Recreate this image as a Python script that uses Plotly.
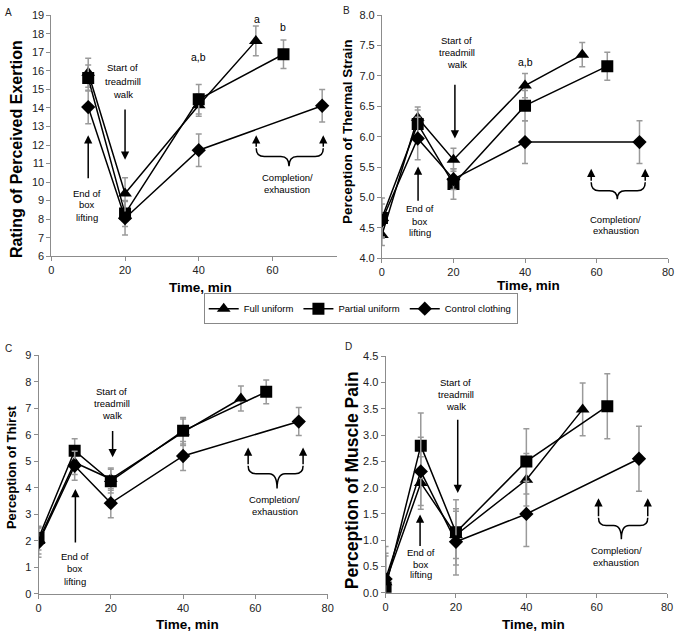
import plotly.graph_objects as go

# ---------------- data ----------------
SERIES = ["Full uniform", "Partial uniform", "Control clothing"]

# Panel A: rating of perceived exertion (no baseline point)
TIME_A_FULL = [10, 20, 40, 55.5]
TIME_A_PARTIAL = [10, 20, 40, 63]
TIME_A_CONTROL = [10, 20, 40, 73.5]
RPE_FULL = [15.9, 9.38, 14.15, 17.62]
RPE_FULL_ERR = [0.78, 0.85, 0.6, 0.8]
RPE_PARTIAL = [15.62, 8.3, 14.47, 16.9]
RPE_PARTIAL_ERR = [0.7, 0.7, 0.8, 0.77]
RPE_CONTROL = [14.05, 8.05, 11.72, 14.12]
RPE_CONTROL_ERR = [0.9, 0.9, 0.88, 0.88]

# Panels B-D
TIME_FULL = [0, 10, 20, 40, 56]
TIME_PARTIAL = [0, 10, 20, 40, 63]
TIME_CONTROL = [0, 10, 20, 40, 72]

TS_FULL = [4.38, 6.31, 5.62, 6.84, 7.35]
TS_FULL_ERR = [0.17, 0.18, 0.19, 0.2, 0.2]
TS_PARTIAL = [4.66, 6.21, 5.22, 6.51, 7.16]
TS_PARTIAL_ERR = [0.33, 0.23, 0.25, 0.25, 0.23]
TS_CONTROL = [4.62, 5.97, 5.3, 5.91, 5.91]
TS_CONTROL_ERR = [0.27, 0.35, 0.17, 0.35, 0.35]

TH_FULL = [2.0, 4.95, 4.33, 6.1, 7.37]
TH_FULL_ERR = [0.5, 0.45, 0.42, 0.5, 0.47]
TH_PARTIAL = [2.1, 5.4, 4.25, 6.15, 7.62]
TH_PARTIAL_ERR = [0.45, 0.45, 0.45, 0.5, 0.45]
TH_CONTROL = [1.93, 4.83, 3.42, 5.2, 6.5]
TH_CONTROL_ERR = [0.55, 0.55, 0.55, 0.55, 0.53]

MP_FULL = [0.2, 2.09, 1.1, 2.15, 3.49]
MP_FULL_ERR = [0.55, 0.5, 0.45, 0.5, 0.5]
MP_PARTIAL = [0.1, 2.8, 1.15, 2.5, 3.55]
MP_PARTIAL_ERR = [0.6, 0.62, 0.62, 0.62, 0.62]
MP_CONTROL = [0.26, 2.31, 0.97, 1.5, 2.55]
MP_CONTROL_ERR = [0.62, 0.65, 0.63, 0.62, 0.62]

Y_TITLES = ["Rating of Perceived Exertion", "Perception of Thermal Strain",
            "Perception of Thirst", "Perception of Muscle Pain"]
X_TITLE = "Time, min"
PANEL_LETTERS = ["A", "B", "C", "D"]

# ---------------- styling ----------------
W, H = 682, 639
SYMBOLS = ["triangle-up", "square", "diamond"]
SIZES = [12, 12, 11]
REG = "Liberation Sans, Arial, sans-serif"
AXC = "#8c8c8c"
ERRC = "#9a9a9a"
NOTE = 9.5

fig = go.Figure()

panels = [
    ("x", "y", [(TIME_A_FULL, RPE_FULL, RPE_FULL_ERR),
                (TIME_A_PARTIAL, RPE_PARTIAL, RPE_PARTIAL_ERR),
                (TIME_A_CONTROL, RPE_CONTROL, RPE_CONTROL_ERR)]),
    ("x2", "y2", [(TIME_FULL, TS_FULL, TS_FULL_ERR),
                  (TIME_PARTIAL, TS_PARTIAL, TS_PARTIAL_ERR),
                  (TIME_CONTROL, TS_CONTROL, TS_CONTROL_ERR)]),
    ("x3", "y3", [(TIME_FULL, TH_FULL, TH_FULL_ERR),
                  (TIME_PARTIAL, TH_PARTIAL, TH_PARTIAL_ERR),
                  (TIME_CONTROL, TH_CONTROL, TH_CONTROL_ERR)]),
    ("x4", "y4", [(TIME_FULL, MP_FULL, MP_FULL_ERR),
                  (TIME_PARTIAL, MP_PARTIAL, MP_PARTIAL_ERR),
                  (TIME_CONTROL, MP_CONTROL, MP_CONTROL_ERR)]),
]

for pi, (xa, ya, series) in enumerate(panels):
    for si, (t, v, e) in enumerate(series):
        fig.add_trace(go.Scatter(
            x=t, y=v, xaxis=xa, yaxis=ya, mode="lines+markers",
            name=SERIES[si], legendgroup=SERIES[si], showlegend=(pi == 0),
            line=dict(color="black", width=1.5),
            marker=dict(symbol=SYMBOLS[si], size=SIZES[si], color="black"),
            error_y=dict(type="data", array=e, color=ERRC, thickness=1.5, width=3),
        ))

# pixel boxes of the plot areas: (left, right, top, bottom)
boxes = [(49, 338, 9.5, 255), (384, 674, 9.3, 257), (36, 329, 356, 599), (387.7, 673, 357, 598)]
xranges = [[0, 77.4], [0, 80], [0, 80], [0, 80]]
yranges = [[6, 19], [4, 8], [0, 9], [0, 4.5]]
ydticks = [1, 0.5, 1, 0.5]
yfmts = ["d", ".1f", "d", ".1f"]

layout_axes = {}
for i, (l, r, t, b) in enumerate(boxes):
    sfx = "" if i == 0 else str(i + 1)
    layout_axes["xaxis" + sfx] = dict(
        domain=[l / W, r / W], range=xranges[i], anchor="y" + sfx,
        tickmode="linear", tick0=0, dtick=20, ticklabeloverflow="allow",
        showline=True, linecolor=AXC, linewidth=1, ticks="outside", ticklen=4,
        tickcolor=AXC, showgrid=False, zeroline=False,
        tickfont=dict(family=REG, size=11, color="#222"),
    )
    layout_axes["yaxis" + sfx] = dict(
        domain=[1 - b / H, 1 - t / H], range=yranges[i], anchor="x" + sfx,
        tickmode="linear", tick0=yranges[i][0], dtick=ydticks[i], tickformat=yfmts[i],
        showline=True, linecolor=AXC, linewidth=1, ticks="outside", ticklen=4,
        tickcolor=AXC, showgrid=False, zeroline=False,
        tickfont=dict(family=REG, size=11, color="#222"),
    )

ann = []
shapes = []

def txt(xr, yr, x, y, s, size=NOTE, fam=REG, **kw):
    ann.append(dict(x=x, y=y, xref=xr, yref=yr, text=s, showarrow=False,
                    font=dict(family=fam, size=size, color="black"), **kw))

def arrow(xr, yr, x, y_tail, y_tip):
    ann.append(dict(x=x, y=y_tip, ax=x, ay=y_tail, xref=xr, yref=yr, axref=xr, ayref=yr,
                    text="", showarrow=True, arrowhead=2, arrowsize=1.1, arrowwidth=1.5,
                    arrowcolor="black", standoff=0))

def brace(xr, yr, xl, xrt, xc, ytip, yb, ydip, rx, ry):
    arrow(xr, yr, xl, yb + ry, ytip)
    arrow(xr, yr, xrt, yb + ry, ytip)
    path = (f"M {xl},{yb + ry} Q {xl},{yb} {xl + rx},{yb} L {xc - rx},{yb} "
            f"Q {xc},{yb} {xc},{ydip} Q {xc},{yb} {xc + rx},{yb} "
            f"L {xrt - rx},{yb} Q {xrt},{yb} {xrt},{yb + ry}")
    shapes.append(dict(type="path", path=path, xref=xr, yref=yr,
                       line=dict(color="black", width=1.5)))

cfg = [
    dict(ax="x", ay="y",
         end=(9.6, [9.4, 8.77, 8.1], 10, 10.13, 12.53),
         start=(19.4, [16.18, 15.44, 14.74], 20, 14.0, 11.2),
         br=(55.6, 73.8, 64.5, 12.53, 11.38, 10.85, 2.2, 0.45),
         comp=(64.0, [10.23, 9.58])),
    dict(ax="x2", ay="y2",
         end=(10.6, [4.81, 4.61, 4.42], 10.1, 4.92, 5.51),
         start=(20.9, [7.58, 7.39, 7.18], 20.4, 6.88, 5.97),
         br=(58.5, 73.6, 65.8, 5.47, 5.11, 4.97, 2.2, 0.14),
         comp=(65.4, [4.63, 4.45])),
    dict(ax="x3", ay="y3",
         end=(10.0, [1.41, 0.95, 0.48], 10.2, 1.88, 3.95),
         start=(20.2, [7.64, 7.19, 6.73], 20.5, 6.2, 5.15),
         br=(58.0, 73.2, 66.0, 5.52, 4.53, 3.97, 2.2, 0.3),
         comp=(65.3, [3.57, 3.11])),
    dict(ax="x4", ay="y4",
         end=(10.0, [0.77, 0.54, 0.34], 9.8, 0.86, 1.49),
         start=(20.0, [4.0, 3.77, 3.54], 20.5, 3.32, 1.9),
         br=(60.5, 74.5, 67.0, 1.8, 1.28, 1.02, 2.2, 0.15),
         comp=(65.6, [0.8, 0.57])),
]

for c in cfg:
    xr, yr = c["ax"], c["ay"]
    ex, eys, eax, et, etip = c["end"]
    for s, yy in zip(["End of", "box", "lifting"], eys):
        txt(xr, yr, ex, yy, s)
    arrow(xr, yr, eax, et, etip)
    sx, sys_, sax, st, stip = c["start"]
    for s, yy in zip(["Start of", "treadmill", "walk"], sys_):
        txt(xr, yr, sx, yy, s)
    arrow(xr, yr, sax, st, stip)
    brace(xr, yr, *c["br"])
    cx, cys = c["comp"]
    for s, yy in zip(["Completion/", "exhaustion"], cys):
        txt(xr, yr, cx, yy, s)

# significance letters
txt("x", "y", 55.8, 18.8, "a", size=10.5)
txt("x", "y", 63.0, 18.35, "b", size=10.5)
txt("x", "y", 40.0, 16.77, "a,b", size=10.5)
txt("x2", "y2", 40.2, 7.23, "a,b", size=10.5)

def ptxt(px, py, s, size, bold=False, angle=0, fam=REG, color="black"):
    ann.append(dict(x=px / W, y=1 - py / H, xref="paper", yref="paper", text=s,
                    showarrow=False, textangle=angle, xanchor="center", yanchor="middle",
                    font=dict(family=fam, size=size, color=color,
                              weight="bold" if bold else "normal")))

for (px, py) in [(200, 287), (533, 285), (187, 630), (538, 630)]:
    ptxt(px, py, X_TITLE, 13.5, bold=True)

ytpos = [(13, 146, 16), (349, 128, 13.5), (8, 470, 13), (354, 483, 17.5)]
for (px, py, sz), s in zip(ytpos, Y_TITLES):
    ptxt(px, py, s, sz, bold=True, angle=-90)

for (px, py), s in zip([(6, 7), (348, 5), (6, 349), (350, 347)], PANEL_LETTERS):
    ptxt(px, py, s, 10, color="#222")

fig.update_layout(
    width=W, height=H, margin=dict(l=0, r=0, t=0, b=0),
    paper_bgcolor="white", plot_bgcolor="white",
    showlegend=True,
    legend=dict(orientation="h", x=362.5 / W, y=1 - 308.5 / H, xanchor="center", yanchor="middle",
                bordercolor="#888", borderwidth=1, bgcolor="white",
                font=dict(family=REG, size=9.5, color="black"),
                itemwidth=30, itemclick=False, tracegroupgap=0),
    annotations=ann, shapes=shapes,
    **layout_axes,
)

fig.write_html(
    "out.html",
    config={"displayModeBar": False},
    post_script="document.body.style.margin='0';document.body.style.padding='0';"
                "document.body.style.overflow='hidden';",
)
